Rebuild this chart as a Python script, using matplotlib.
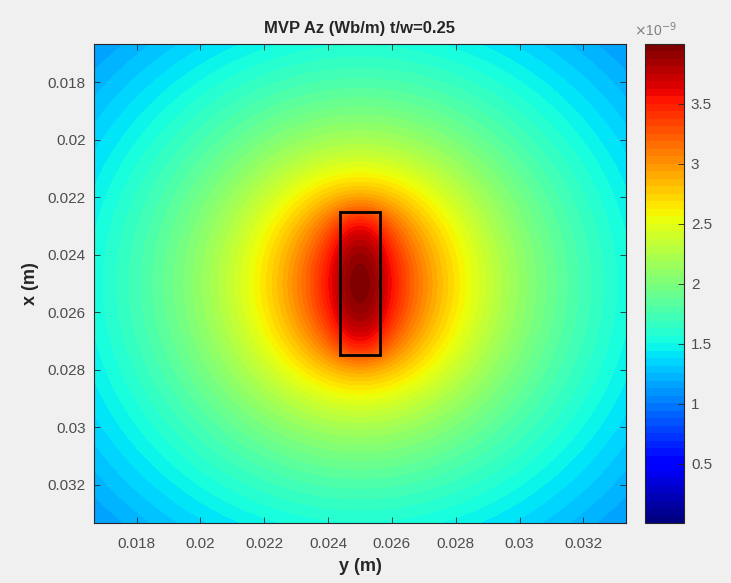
#!/usr/bin/env python3
# -*- coding: utf-8 -*-
"""
Magnetic vector potential Az around a rectangular conductor (t/w = 0.25).
"""

import numpy as np
import matplotlib
matplotlib.use('Agg')
import matplotlib.pyplot as plt
from matplotlib.patches import Rectangle

# conductor geometry (m)
center = [0.025, 0.025]          # (y, x)
thickness = 0.00125               # along y
width = 0.005                     # along x
view_half = 0.0083333             # half size of the plotted window

# Az: peak at the conductor centre, then samples at
# offsets from the centre (m) with the value their colour stands for (Wb/m)
az_peak = 3.98e-9
sample_dy = [0.0011, 0.00367, 0.00586, 0.00833, 0.00833, 0.0, 0.0]
sample_dx = [0.0, 0.0, 0.0, 0.0, 0.00833, 0.00463, 0.00833]
sample_az = [3.5e-9, 2.5e-9, 2.0e-9, 1.5e-9, 1.1e-9, 2.5e-9, 1.5e-9]
sample_weight = [1.0, 1.0, 1.0, 2.0, 2.0, 1.0, 2.0]

clim = [0.004e-9, 4.0e-9]
cbar_ticks = [0.5e-9, 1.0e-9, 1.5e-9, 2.0e-9, 2.5e-9, 3.0e-9, 3.5e-9]
cbar_labels = ['0.5', '1', '1.5', '2', '2.5', '3', '3.5']
axis_ticks = [0.018, 0.02, 0.022, 0.024, 0.026, 0.028, 0.03, 0.032]
axis_labels = ['0.018', '0.02', '0.022', '0.024', '0.026', '0.028', '0.03', '0.032']
n_colors = 64
EPS = (1.3e-9, 1.7e-9)            # keeps the log/atan terms off exact zeros


def rect_log_integral(u, v):
    """Antiderivative of ln(u^2 + v^2) du dv."""
    r2 = u**2 + v**2
    return (u * v * (np.log(r2) - 3.0)
            + u**2 * np.arctan(v / u) + v**2 * np.arctan(u / v))


def mean_log_r(Y, X):
    """Mean of ln r from each point to the conductor cross-section."""
    Y = np.asarray(Y) + EPS[0]
    X = np.asarray(X) + EPS[1]
    y1, y2 = center[0] - thickness / 2, center[0] + thickness / 2
    x1, x2 = center[1] - width / 2, center[1] + width / 2
    g = (rect_log_integral(Y - y1, X - x1) - rect_log_integral(Y - y2, X - x1)
         - rect_log_integral(Y - y1, X - x2) + rect_log_integral(Y - y2, X - x2))
    return 0.5 * g / (thickness * width)


lo, hi = center[0] - view_half, center[0] + view_half
ys = np.linspace(lo, hi, 401)
xs = np.linspace(lo, hi, 401)
Y, X = np.meshgrid(ys, xs)

# Az = az_peak - k * (<ln r> - <ln r>_centre), k fitted to the samples
m_c = mean_log_r(center[0], center[1])
d_m = mean_log_r(center[0] + np.array(sample_dy),
                 center[1] + np.array(sample_dx)) - m_c
d_a = az_peak - np.array(sample_az)
w = np.array(sample_weight)
k = np.sum(w * d_m * d_a) / np.sum(w * d_m * d_m)
Az = az_peak - k * (mean_log_r(Y, X) - m_c)

plt.rcParams['font.family'] = ['Liberation Sans', 'DejaVu Sans']
fig = plt.figure(figsize=(7.31, 5.83), dpi=100, facecolor='#f0f0f0')
W, H = 731, 583
ax = fig.add_axes([94 / W, 1 - 523 / H, 532 / W, 479 / H])
cax = fig.add_axes([645 / W, 1 - 523 / H, 39 / W, 479 / H])

cmap = plt.get_cmap('jet', n_colors)
levels = np.linspace(clim[0], clim[1], n_colors + 1)
cf = ax.contourf(Y, X, np.clip(Az, clim[0], clim[1] * 0.9999),
                 levels=levels, cmap=cmap, vmin=clim[0], vmax=clim[1])

ax.add_patch(Rectangle((center[0] - thickness / 2, center[1] - width / 2),
                       thickness, width, fill=False, edgecolor='black',
                       linewidth=2.0))

ax.set_xlim(lo, hi)
ax.set_ylim(hi, lo)
ax.set_xticks(axis_ticks)
ax.set_xticklabels(axis_labels)
ax.set_yticks(axis_ticks)
ax.set_yticklabels(axis_labels)
ax.tick_params(direction='in', top=True, right=True, length=4, width=0.6,
               colors='#262626', labelcolor='#4d4d4d', labelsize=11)
ax.tick_params(axis='x', pad=10)
ax.tick_params(axis='y', pad=6)
for s in ax.spines.values():
    s.set_color('#262626')
    s.set_linewidth(0.8)

ax.set_xlabel('y (m)', fontsize=13, fontweight='bold', color='#262626', labelpad=5)
ax.set_ylabel('x (m)', fontsize=13, fontweight='bold', color='#262626', labelpad=6)
ax.set_title('MVP Az (Wb/m) t/w=0.25', fontsize=12, fontweight='bold',
             color='#262626', pad=8)

cb = fig.colorbar(cf, cax=cax, ticks=cbar_ticks)
cb.ax.set_yticklabels(cbar_labels)
cb.ax.tick_params(direction='in', length=4, width=0.6, colors='#262626',
                  labelcolor='#4d4d4d', labelsize=11, pad=5)
cb.outline.set_edgecolor('#262626')
cb.outline.set_linewidth(0.8)
cb.ax.minorticks_off()
cax.text(0.26, 1.01, r'$\times$10$^{-9}$', transform=cax.transAxes,
         fontsize=10, color='#808080', ha='center', va='bottom')

fig.savefig('out.png', dpi=100, facecolor=fig.get_facecolor())
plt.close(fig)
